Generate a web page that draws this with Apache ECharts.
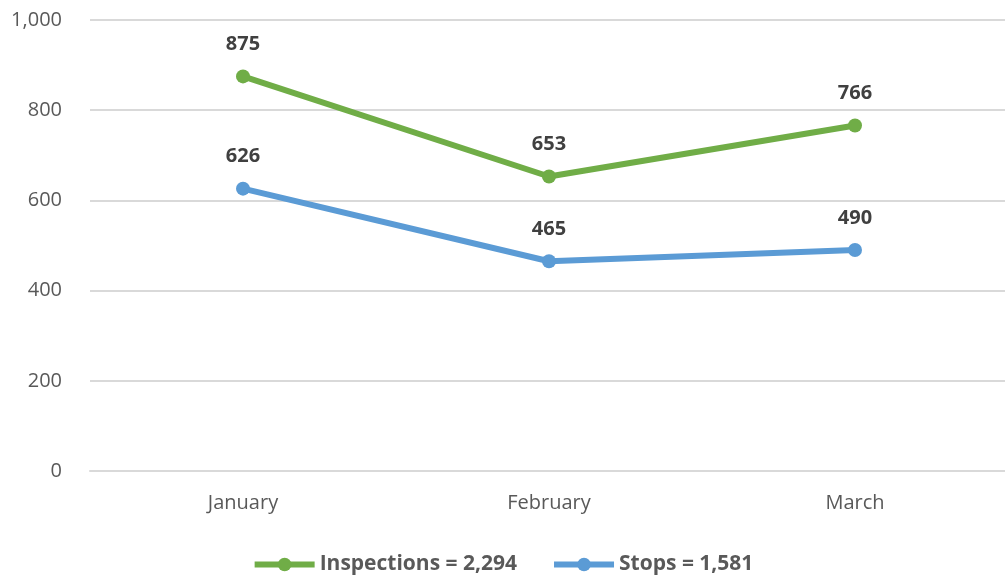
<!DOCTYPE html>
<html>
<head>
<meta charset="utf-8">
<script src="https://cdn.jsdelivr.net/npm/echarts@6/dist/echarts.min.js"></script>
<style>
  html, body { margin: 0; padding: 0; background: #fff; }
  #chart { width: 1005px; height: 581px; }
</style>
</head>
<body>
<div id="chart"></div>
<script>
const months = ['January', 'February', 'March']
const inspections = [875, 653, 766]
const stops = [626, 465, 490]
const seriesNames = ['Inspections = 2,294', 'Stops = 1,581']

const chart = echarts.init(document.getElementById('chart'))

const fontFamily = '"Open Sans", "Liberation Sans", sans-serif'

// shared look for both lines
const lineSeries = (name, data, color) => ({
  name: name,
  type: 'line',
  data: data,
  symbol: 'circle',
  symbolSize: 14,
  itemStyle: { color: color },
  lineStyle: { color: color, width: 6 },
  label: {
    show: true,
    position: 'top',
    distance: 15,
    fontFamily: fontFamily,
    fontSize: 20,
    fontWeight: 'bold',
    color: '#404040'
  }
})

chart.setOption({
  animation: false,
  grid: { left: 90, width: 918, top: 20, bottom: 110, containLabel: false, outerBoundsMode: 'none' },
  legend: {
    bottom: 1,
    left: 'center',
    itemWidth: 60,
    itemHeight: 17,
    itemGap: 34,
    lineStyle: { width: 6 },
    textStyle: { fontFamily: fontFamily, fontSize: 21, fontWeight: 'bold', color: '#595959' },
    data: seriesNames
  },
  xAxis: {
    type: 'category',
    data: months,
    axisLine: { lineStyle: { color: '#d9d9d9', width: 2 } },
    axisTick: { show: false },
    axisLabel: { fontFamily: fontFamily, fontSize: 20, color: '#595959', margin: 22 }
  },
  yAxis: {
    type: 'value',
    min: 0,
    max: 1000,
    interval: 200,
    axisLine: { show: false },
    axisTick: { show: false },
    splitLine: { lineStyle: { color: '#d9d9d9', width: 2 } },
    axisLabel: {
      fontFamily: fontFamily,
      fontSize: 20,
      color: '#595959',
      margin: 28,
      formatter: v => v.toLocaleString('en-US')
    }
  },
  series: [
    lineSeries(seriesNames[0], inspections, '#70ad47'),
    lineSeries(seriesNames[1], stops, '#5b9bd5')
  ]
})
</script>
</body>
</html>
